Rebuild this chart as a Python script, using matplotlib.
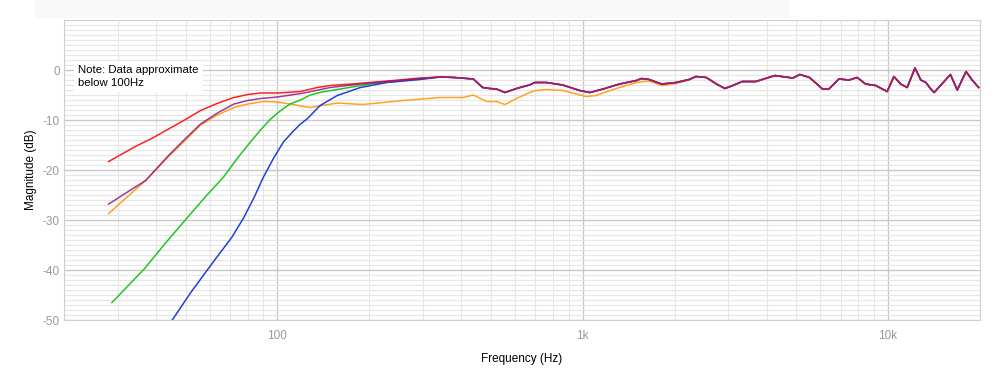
import matplotlib.pyplot as plt
from matplotlib.patches import Rectangle
from matplotlib.ticker import FixedLocator
import numpy as np

plt.rcParams['font.family'] = ['Liberation Sans', 'DejaVu Sans']

# shared response above ~300 Hz (all curves except orange collapse onto this)
common_f = [341, 380, 438, 470, 496, 522, 556, 607, 640, 670, 696, 760, 860, 977, 1055, 1166,
            1320, 1500, 1557, 1650, 1813, 2020, 2230, 2350, 2540, 2740, 2920, 3100, 3330, 3690,
            4060, 4270, 4600, 4880, 5140, 5530, 6100, 6400, 6900, 7450, 7920, 8440, 9100, 9930,
            10450, 10990, 11550, 12250, 12800, 13300, 13800, 14150, 15000, 16000, 16850, 18000,
            18900, 19800]
common_db = [-1.4, -1.5, -1.8, -3.5, -3.7, -3.8, -4.5, -3.7, -3.3, -3.0, -2.5, -2.5, -3.0, -4.1,
             -4.5, -3.8, -2.8, -2.1, -1.7, -1.9, -2.8, -2.5, -1.9, -1.3, -1.5, -2.8, -3.7, -3.1,
             -2.3, -2.3, -1.5, -1.1, -1.4, -1.6, -0.9, -1.5, -3.8, -3.8, -1.8, -2.0, -1.5, -2.8,
             -3.1, -4.3, -1.3, -2.8, -3.5, 0.4, -2.0, -2.5, -3.8, -4.5, -2.8, -0.9, -4.0, -0.3,
             -2.1, -3.5]

red_f = [28, 34, 39, 44, 50, 56, 64, 72, 80, 88, 100, 119, 135, 149, 175, 201, 250, 293]
red_db = [-18.3, -15.4, -13.6, -11.8, -9.9, -8.1, -6.6, -5.5, -4.9, -4.6, -4.6, -4.3, -3.5,
          -3.1, -2.8, -2.5, -2.0, -1.6]

purple_f = [28, 37, 44, 50, 56, 64, 72, 80, 88, 100, 122, 149, 175, 201, 250, 293]
purple_db = [-26.8, -22.1, -17.1, -13.7, -10.8, -8.5, -6.8, -6.1, -5.7, -5.4, -4.6, -3.5, -3.0,
             -2.6, -2.1, -1.7]

green_f = [28.7, 36.6, 43, 50.7, 58, 66.6, 74, 81.6, 88, 95, 102, 110, 119, 128, 140, 157, 201, 293]
green_db = [-46.5, -39.8, -34.6, -29.5, -25.4, -21.4, -17.6, -14.4, -12.0, -9.8, -8.2, -6.8,
            -6.0, -5.0, -4.4, -3.9, -2.8, -1.8]

blue_f = [42, 45.8, 52, 60.4, 65, 71, 77.6, 84, 90, 97, 104.6, 112, 119, 125, 138, 157, 187, 228, 293]
blue_db = [-53, -49.5, -44.5, -39.1, -36.5, -33.4, -29.5, -25.4, -21.4, -17.7, -14.4, -12.4,
           -10.8, -9.8, -7.1, -5.1, -3.5, -2.5, -1.9]

orange_f = [28, 37, 44, 50, 56, 64, 72, 80, 90, 100, 110, 128, 157, 191, 258, 341, 405, 438,
            484, 522, 556, 607, 670, 703, 760, 860, 952, 1028, 1106, 1228, 1320, 1500, 1650,
            1813, 2020, 2230]
orange_db = [-28.7, -22.1, -17.3, -14.0, -11.0, -8.9, -7.5, -6.8, -6.3, -6.4, -6.8, -7.5, -6.6,
             -6.9, -6.1, -5.5, -5.5, -5.0, -6.3, -6.3, -6.9, -5.7, -4.5, -4.1, -3.9, -4.1, -4.8,
             -5.3, -5.1, -4.1, -3.5, -2.5, -2.2, -3.1, -2.7, -2.0]

def full(f, db, start):
    # tack the shared high-frequency part onto a curve's own low end
    cf = [x for x in common_f if x >= start]
    cd = [d for x, d in zip(common_f, common_db) if x >= start]
    return list(f) + cf, list(db) + cd

fig = plt.figure(figsize=(10, 3.88), dpi=100)
fig.patches.append(Rectangle((0.035, 0.953), 0.755, 0.047, transform=fig.transFigure,
                             facecolor='#f8f8f8', edgecolor='none', zorder=0))
ax = fig.add_axes([0.064, 0.175, 0.916, 0.7735])

x, y = full(orange_f, orange_db, 2350)
ax.plot(x, y, color='#ffa21f', lw=1.1, zorder=3)
x, y = full(green_f, green_db, 341)
ax.plot(x, y, color='#22c422', lw=1.1, zorder=4)
x, y = full(blue_f, blue_db, 341)
ax.plot(x, y, color='#2040d8', lw=1.1, zorder=5)
x, y = full(red_f, red_db, 341)
ax.plot(x, y, color='#ff2020', lw=1.1, zorder=6)
x, y = full(purple_f, purple_db, 341)
ax.plot(x, y, color='#8e1a86', lw=1.1, zorder=7, alpha=0.85)

ax.set_xscale('log')
ax.set_xlim(20, 20000)
ax.set_ylim(-50, 10)

ax.xaxis.set_major_locator(FixedLocator([100, 1000, 10000]))
ax.set_xticklabels(['100', '1k', '10k'])
minor_x = [m * 10 ** e for e in (1, 2, 3) for m in range(2, 10)] + [20000]
ax.xaxis.set_minor_locator(FixedLocator(minor_x))
ax.set_yticks([0, -10, -20, -30, -40, -50])
ax.set_yticklabels(['0', '-10', '-20', '-30', '-40', '-50'])
ax.yaxis.set_minor_locator(FixedLocator(np.arange(-50, 11, 1)))
ax.xaxis.set_minor_formatter(plt.NullFormatter())

ax.grid(True, which='major', color='#c8c8c8', lw=1.0, zorder=1)
ax.grid(True, which='minor', color='#e6e6e6', lw=0.8, zorder=0)
ax.set_axisbelow(True)
ax.tick_params(which='both', length=0, colors='#999999', labelsize=8.5)
ax.tick_params(axis='x', pad=7)
ax.tick_params(axis='y', pad=3)
for s in ax.spines.values():
    s.set_color('#d0d0d0')

ax.set_xlabel('Frequency (Hz)', fontsize=8.5, labelpad=8)
ax.set_ylabel('Magnitude (dB)', fontsize=8.5, labelpad=4)

ax.text(0.0155, 0.85, 'Note: Data approximate\nbelow 100Hz', transform=ax.transAxes,
        fontsize=8.2, va='top', ha='left', linespacing=1.35, zorder=10,
        bbox=dict(facecolor='white', edgecolor='none', pad=3))

plt.savefig('out.png', dpi=100)
